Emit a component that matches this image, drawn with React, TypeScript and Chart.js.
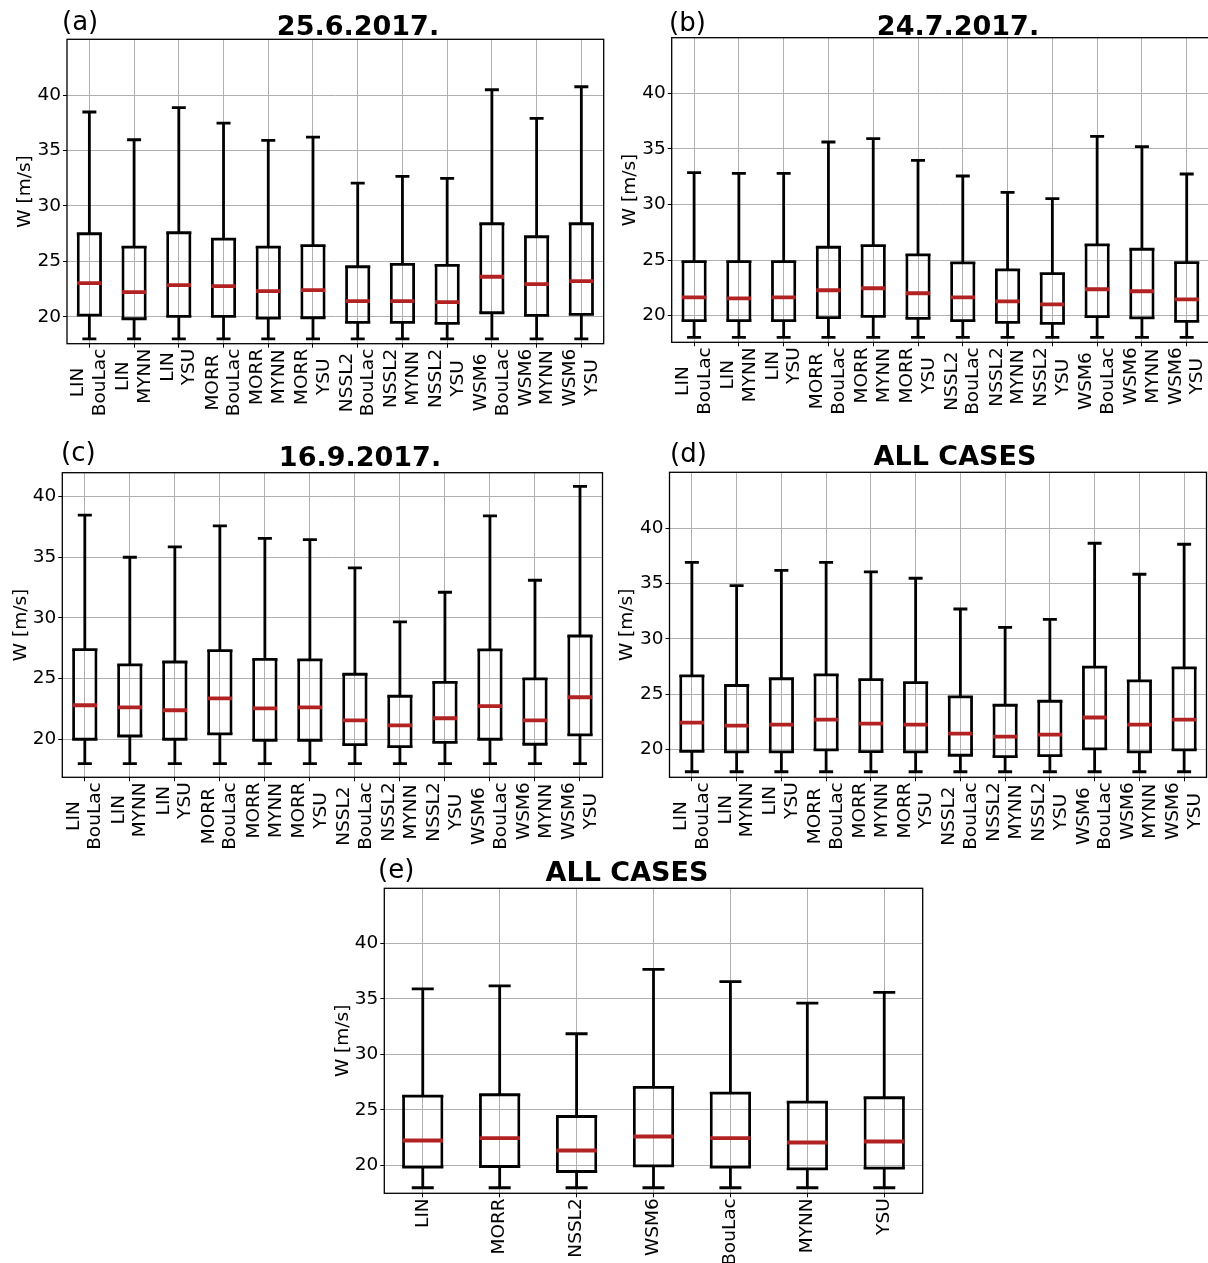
import React, { useEffect, useRef } from 'react';
import { Chart, registerables } from 'chart.js';

Chart.register(...registerables);

// ---------- categories & ticks ----------
const comboLabels: string[][] = [
  ['LIN', 'BouLac'], ['LIN', 'MYNN'], ['LIN', 'YSU'],
  ['MORR', 'BouLac'], ['MORR', 'MYNN'], ['MORR', 'YSU'],
  ['NSSL2', 'BouLac'], ['NSSL2', 'MYNN'], ['NSSL2', 'YSU'],
  ['WSM6', 'BouLac'], ['WSM6', 'MYNN'], ['WSM6', 'YSU'],
];
const schemeLabels: string[][] = [['LIN'], ['MORR'], ['NSSL2'], ['WSM6'], ['BouLac'], ['MYNN'], ['YSU']];
const yTicks = [20, 25, 30, 35, 40];

// ---------- (a) 25.6.2017. ----------
const aMax = [38.47, 35.97, 38.86, 37.47, 35.91, 36.21, 32.06, 32.66, 32.48, 40.48, 37.89, 40.75];
const aQ3 = [27.49, 26.29, 27.58, 27.0, 26.29, 26.41, 24.51, 24.72, 24.63, 28.39, 27.22, 28.39];
const aMed = [23.04, 22.23, 22.86, 22.77, 22.32, 22.41, 21.41, 21.41, 21.32, 23.61, 22.95, 23.22];
const aQ1 = [20.15, 19.82, 20.03, 20.03, 19.88, 19.91, 19.49, 19.49, 19.4, 20.36, 20.12, 20.21];
const aMin = [18.0, 18.0, 18.0, 18.0, 18.0, 18.0, 18.0, 18.0, 18.0, 18.0, 18.0, 18.0];

// ---------- (b) 24.7.2017. ----------
const bMax = [32.86, 32.8, 32.8, 35.62, 35.92, 33.97, 32.56, 31.09, 30.52, 36.13, 35.2, 32.74];
const bQ3 = [24.86, 24.86, 24.86, 26.15, 26.3, 25.46, 24.74, 24.11, 23.78, 26.36, 25.97, 24.77];
const bMed = [21.65, 21.56, 21.65, 22.28, 22.46, 22.01, 21.65, 21.29, 21.02, 22.37, 22.19, 21.47];
const bQ1 = [19.55, 19.55, 19.55, 19.82, 19.94, 19.76, 19.55, 19.4, 19.31, 19.91, 19.79, 19.49];
const bMin = [18.05, 18.05, 18.05, 18.05, 18.05, 18.05, 18.05, 18.05, 18.05, 18.05, 18.05, 18.05];

// ---------- (c) 16.9.2017. ----------
const cMax = [38.44, 34.98, 35.83, 37.56, 36.54, 36.43, 34.1, 29.66, 32.1, 38.38, 33.09, 40.82];
const cQ3 = [27.38, 26.12, 26.36, 27.3, 26.58, 26.53, 25.35, 23.54, 24.69, 27.35, 24.97, 28.5];
const cMed = [22.8, 22.63, 22.39, 23.37, 22.55, 22.63, 21.56, 21.15, 21.73, 22.72, 21.56, 23.46];
const cQ1 = [20.0, 20.27, 20.0, 20.44, 19.92, 19.92, 19.56, 19.4, 19.75, 20.0, 19.59, 20.36];
const cMin = [18.0, 18.0, 18.0, 18.0, 18.0, 18.0, 18.0, 18.0, 18.0, 18.0, 18.0, 18.0];

// ---------- (d) ALL CASES ----------
const dMax = [36.92, 34.81, 36.2, 36.92, 36.05, 35.48, 32.7, 31.04, 31.76, 38.64, 35.84, 38.55];
const dQ3 = [26.67, 25.79, 26.4, 26.76, 26.33, 26.06, 24.77, 24.01, 24.37, 27.45, 26.21, 27.39];
const dMed = [22.44, 22.17, 22.26, 22.71, 22.35, 22.26, 21.45, 21.18, 21.36, 22.9, 22.26, 22.71];
const dQ1 = [19.85, 19.79, 19.79, 19.97, 19.82, 19.79, 19.49, 19.37, 19.46, 20.06, 19.79, 19.97];
const dMin = [18.0, 18.0, 18.0, 18.0, 18.0, 18.0, 18.0, 18.0, 18.0, 18.0, 18.0, 18.0];

// ---------- (e) ALL CASES (per scheme) ----------
const eMax = [35.89, 36.16, 31.86, 37.66, 36.55, 34.62, 35.59];
const eQ3 = [26.25, 26.37, 24.41, 27.03, 26.52, 25.71, 26.1];
const eMed = [22.25, 22.46, 21.35, 22.61, 22.46, 22.07, 22.16];
const eQ1 = [19.85, 19.91, 19.46, 19.97, 19.85, 19.7, 19.76];
const eMin = [18.0, 18.0, 18.0, 18.0, 18.0, 18.0, 18.0];

// ---------- styles ----------
const FONT = '"DejaVu Sans", sans-serif';
const TICK_SIZE = 18.5;
const LW = 2.8;
const MED_LW = 3.8;
const MEDIAN_COLOR = '#b22222';
const GRID_COLOR = '#b0b0b0';

type Frame = { l: number; t: number; r: number; b: number };
type PanelProps = {
  labels: string[][];
  max: number[]; q3: number[]; med: number[]; q1: number[]; min: number[];
  yMin: number; yMax: number;
  frame: Frame;
  ylabelX: number;
};

const framePlugin = {
  id: 'frameRect',
  afterDraw(chart: any) {
    const { ctx, chartArea: a } = chart;
    ctx.save();
    ctx.strokeStyle = '#000';
    ctx.lineWidth = 1.3;
    ctx.strokeRect(a.left, a.top, a.right - a.left, a.bottom - a.top);
    ctx.restore();
  },
};

function makeXLabelPlugin(labels: string[][]) {
  return {
    id: 'xLabels',
    afterDraw(chart: any) {
      const { ctx, chartArea } = chart;
      const xs = chart.scales.x;
      ctx.save();
      ctx.font = `${TICK_SIZE}px ${FONT}`;
      ctx.fillStyle = '#000';
      ctx.textAlign = 'center';
      ctx.textBaseline = 'middle';
      const lh = TICK_SIZE * 1.17;
      labels.forEach((lines, i) => {
        const x = xs.getPixelForValue(i);
        const w = Math.max(...lines.map((l) => ctx.measureText(l).width));
        ctx.save();
        ctx.translate(x, chartArea.bottom + 5);
        ctx.rotate(-Math.PI / 2);
        lines.forEach((ln, j) => {
          ctx.fillText(ln, -w / 2, (j - (lines.length - 1) / 2) * lh);
        });
        ctx.restore();
      });
      ctx.restore();
    },
  };
}

function BoxPanel(p: PanelProps) {
  const ref = useRef<HTMLCanvasElement>(null);
  const canvasLeft = Math.floor(p.ylabelX - 15);
  const canvasTop = Math.floor(p.frame.t) - 16;
  const canvasRight = Math.ceil(p.frame.r) + 4;
  const W = canvasRight - canvasLeft;
  const H = Math.ceil(p.frame.b - canvasTop + 85);

  useEffect(() => {
    const n = p.labels.length;
    const s = (p.frame.r - p.frame.l) / n;
    const boxHalf = 0.25 * s;
    const capHalf = 0.125 * s + LW / 2;
    const yAxisW = p.frame.l - canvasLeft;
    const titleLH = TICK_SIZE * 1.2;
    const titlePad = p.ylabelX - canvasLeft - titleLH / 2;
    const padTop = p.frame.t - canvasTop;
    const padRight = canvasRight - p.frame.r;
    const xAxisH = H - (p.frame.b - canvasTop);

    const pts = (data: number[], radius: number, width: number, color: string, order: number) => ({
      type: 'line' as const,
      data,
      showLine: false,
      pointStyle: 'line',
      pointRadius: radius,
      pointHoverRadius: radius,
      pointBorderWidth: width,
      pointHoverBorderWidth: width,
      pointBorderColor: color,
      pointBackgroundColor: color,
      borderColor: color,
      backgroundColor: color,
      order,
    });

    const chart = new Chart(ref.current as HTMLCanvasElement, {
      type: 'bar',
      data: {
        labels: p.labels.map((l) => l.join(' ')),
        datasets: [
          {
            type: 'bar',
            data: p.q1.map((v, i) => [v, p.q3[i]]),
            backgroundColor: 'rgba(0,0,0,0)',
            borderColor: '#000',
            borderWidth: { left: LW, right: LW, top: 0, bottom: 0 },
            borderSkipped: false,
            barThickness: 2 * boxHalf + LW,
            grouped: false,
            inflateAmount: 0,
            order: 3,
          } as any,
          {
            type: 'bar',
            data: p.q3.map((v, i) => [v, p.max[i]]),
            backgroundColor: '#000',
            borderWidth: 0,
            barThickness: LW,
            grouped: false,
            inflateAmount: 0,
            order: 3,
          } as any,
          {
            type: 'bar',
            data: p.min.map((v, i) => [v, p.q1[i]]),
            backgroundColor: '#000',
            borderWidth: 0,
            barThickness: LW,
            grouped: false,
            inflateAmount: 0,
            order: 3,
          } as any,
          pts(p.q3, boxHalf + LW / 2, LW, '#000', 2) as any,
          pts(p.q1, boxHalf + LW / 2, LW, '#000', 2) as any,
          pts(p.max, capHalf, LW, '#000', 2) as any,
          pts(p.min, capHalf, LW, '#000', 2) as any,
          pts(p.med, boxHalf + 1, MED_LW, MEDIAN_COLOR, 1) as any,
        ],
      },
      options: {
        animation: false,
        responsive: false,
        maintainAspectRatio: false,
        devicePixelRatio: 1,
        events: [],
        layout: { autoPadding: false, padding: { left: 0, top: padTop, right: padRight, bottom: 0 } },
        plugins: { legend: { display: false }, tooltip: { enabled: false }, title: { display: false } },
        scales: {
          x: {
            type: 'category',
            offset: true,
            afterFit: (sc: any) => { sc.height = xAxisH; },
            grid: { offset: false, color: GRID_COLOR, lineWidth: 1, tickColor: '#000', tickLength: 4, drawTicks: true },
            border: { display: false },
            ticks: { display: false },
          },
          y: {
            type: 'linear',
            min: p.yMin,
            max: p.yMax,
            afterBuildTicks: (sc: any) => { sc.ticks = yTicks.map((v) => ({ value: v })); },
            afterFit: (sc: any) => { sc.width = yAxisW; },
            grid: { color: GRID_COLOR, lineWidth: 1, tickColor: '#000', tickLength: 4, drawTicks: true },
            border: { display: false },
            ticks: { font: { family: FONT, size: TICK_SIZE }, color: '#000', padding: 2, autoSkip: false },
            title: {
              display: true,
              text: 'W [m/s]',
              font: { family: FONT, size: TICK_SIZE },
              color: '#000',
              padding: { top: titlePad, bottom: 0 },
            },
          },
        },
      } as any,
      plugins: [makeXLabelPlugin(p.labels), framePlugin],
    });
    return () => chart.destroy();
  }, []);

  return (
    <canvas
      ref={ref}
      width={W}
      height={H}
      style={{ position: 'absolute', left: canvasLeft, top: canvasTop, width: W, height: H }}
    />
  );
}

function Label({ x, baseline, size, bold, center, text }: { x: number; baseline: number; size: number; bold?: boolean; center?: boolean; text: string }) {
  const off = (size - size * 1.164) / 2 + size * 0.928;
  const style: React.CSSProperties = {
    position: 'absolute',
    top: baseline - off,
    left: center ? x - 200 : x,
    width: center ? 400 : undefined,
    textAlign: center ? 'center' : 'left',
    fontFamily: FONT,
    fontSize: size,
    fontWeight: bold ? 'bold' : 'normal',
    lineHeight: `${size}px`,
    whiteSpace: 'nowrap',
    color: '#000',
  };
  return <div style={style}>{text}</div>;
}

export default function App() {
  useEffect(() => {
    document.body.style.margin = '0';
    document.documentElement.style.overflow = 'hidden';
  }, []);
  return (
    <div style={{ position: 'absolute', left: 0, top: 0, width: 1208, height: 1263, overflow: 'hidden', background: '#fff' }}>
      <BoxPanel labels={comboLabels} max={aMax} q3={aQ3} med={aMed} q1={aQ1} min={aMin}
        yMin={17.57} yMax={45.03} frame={{ l: 67, t: 39.3, r: 603.7, b: 343.7 }} ylabelX={25} />
      <BoxPanel labels={comboLabels} max={bMax} q3={bQ3} med={bMed} q1={bQ1} min={bMin}
        yMin={17.6} yMax={45.0} frame={{ l: 671.7, t: 37.7, r: 1209.1, b: 342.3 }} ylabelX={630} />
      <BoxPanel labels={comboLabels} max={cMax} q3={cQ3} med={cMed} q1={cQ1} min={cMin}
        yMin={16.87} yMax={41.94} frame={{ l: 62.3, t: 472.7, r: 602.5, b: 777.3 }} ylabelX={21.5} />
      <BoxPanel labels={comboLabels} max={dMax} q3={dQ3} med={dMed} q1={dQ1} min={dMin}
        yMin={17.5} yMax={45.05} frame={{ l: 669.5, t: 472.3, r: 1206.5, b: 777.3 }} ylabelX={627.5} />
      <BoxPanel labels={schemeLabels} max={eMax} q3={eQ3} med={eMed} q1={eQ1} min={eMin}
        yMin={17.5} yMax={44.95} frame={{ l: 384.3, t: 888.3, r: 922.7, b: 1193.3 }} ylabelX={343} />

      <Label x={62} baseline={30} size={26} text="(a)" />
      <Label x={358} baseline={34.5} size={27} bold center text="25.6.2017." />
      <Label x={669} baseline={31} size={26} text="(b)" />
      <Label x={958} baseline={35} size={27} bold center text="24.7.2017." />
      <Label x={61} baseline={461} size={26} text="(c)" />
      <Label x={360} baseline={466} size={27} bold center text="16.9.2017." />
      <Label x={670} baseline={462} size={26} text="(d)" />
      <Label x={955} baseline={465} size={27} bold center text="ALL CASES" />
      <Label x={378} baseline={878} size={26} text="(e)" />
      <Label x={627} baseline={880.5} size={27} bold center text="ALL CASES" />
    </div>
  );
}
